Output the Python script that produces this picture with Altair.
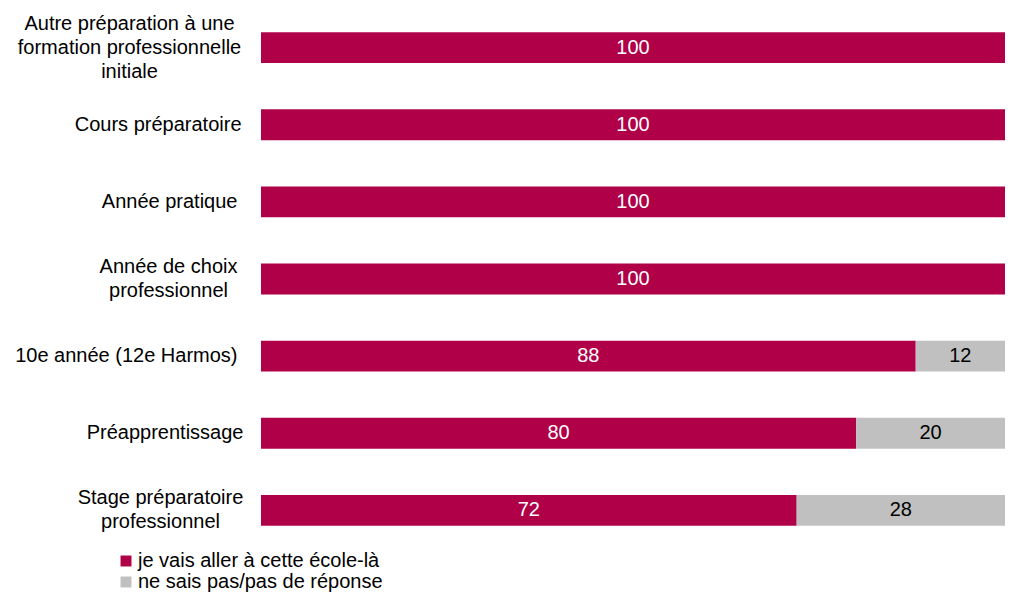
import altair as alt
import pandas as pd

categories = [
    "Autre préparation à une|formation professionnelle|initiale",
    "Cours préparatoire",
    "Année pratique",
    "Année de choix|professionnel",
    "10e année (12e Harmos)",
    "Préapprentissage",
    "Stage préparatoire|professionnel",
]
yes_values = [100, 100, 100, 100, 88, 80, 72]
dk_values = [0, 0, 0, 0, 12, 20, 28]
series = ["je vais aller à cette école-là", "ne sais pas/pas de réponse"]
colors = ["#B00047", "#C0C0C0"]

rows = []
for c, y, d in zip(categories, yes_values, dk_values):
    rows.append({"cat": c, "series": series[0], "value": y, "order": 0})
    if d > 0:
        rows.append({"cat": c, "series": series[1], "value": d, "order": 1})
df = pd.DataFrame(rows)

FONT = "Liberation Sans"
FS = 20

base = alt.Chart(df).transform_stack(
    stack="value", groupby=["cat"], as_=["x0", "x1"], sort=[alt.SortField("order")]
).transform_calculate(mid="(datum.x0 + datum.x1) / 2")

label_padding = {
    "condition": [
        {"test": "indexof(datum.value, 'Autre') >= 0", "value": 132},
        {"test": "indexof(datum.value, 'choix') >= 0", "value": 93},
        {"test": "indexof(datum.value, 'Stage') >= 0", "value": 101},
        {"test": "indexof(datum.value, 'pratique') >= 0", "value": 24},
        {"test": "indexof(datum.value, 'Harmos') >= 0", "value": 24},
        {"test": "indexof(datum.value, 'apprentissage') >= 0", "value": 18},
    ],
    "value": 20,
}
label_align = {
    "condition": {"test": "indexof(datum.value, '|') >= 0", "value": "center"},
    "value": "right",
}
label_offset = {
    "condition": [
        {"test": "indexof(datum.value, 'Autre') >= 0", "value": -24},
        {"test": "indexof(datum.value, '|') >= 0", "value": -12},
    ],
    "value": 0,
}

yenc = alt.Y(
    "cat:N",
    sort=categories,
    scale=alt.Scale(paddingInner=0.6, paddingOuter=0.3),
    axis=alt.Axis(
        title=None, labelExpr="split(datum.label, '|')", labelAlign=label_align,
        labelFontSize=FS, labelColor="black", labelFont=FONT, labelPadding=label_padding,
        labelOffset=label_offset,
        labelLimit=0, labelLineHeight=24, ticks=False, domain=False, grid=False,
    ),
)
xscale = alt.Scale(domain=[0, 100], nice=False)

bars = base.mark_bar().encode(
    x=alt.X("x0:Q", scale=xscale, axis=None),
    x2="x1:Q",
    y=yenc,
    color=alt.Color(
        "series:N",
        scale=alt.Scale(domain=series, range=colors),
        legend=alt.Legend(
            title=None, orient="none", legendX=-145, legendY=542, direction="vertical",
            symbolType="square", symbolSize=120, symbolStrokeWidth=0,
            labelFontSize=FS, labelFont=FONT, labelColor="black", padding=0,
            rowPadding=1, labelOffset=2, labelLimit=0,
        ),
    ),
)

txt_yes = base.transform_filter(alt.datum.order == 0).mark_text(
    fontSize=FS, font=FONT, color="white"
).encode(x=alt.X("mid:Q", scale=xscale), y=alt.Y("cat:N", sort=categories), text="value:Q")
txt_dk = base.transform_filter(alt.datum.order == 1).mark_text(
    fontSize=FS, font=FONT, color="black"
).encode(x=alt.X("mid:Q", scale=xscale), y=alt.Y("cat:N", sort=categories), text="value:Q")

chart = alt.layer(bars, txt_yes, txt_dk).properties(
    width=744, height=540,
    autosize=alt.AutoSizeParams(type="none"),
    padding={"left": 253, "top": 1, "right": 0, "bottom": 44},
).configure(font=FONT).configure_view(stroke=None)

chart.save("out.html", embed_options={"renderer": "svg", "actions": False})
